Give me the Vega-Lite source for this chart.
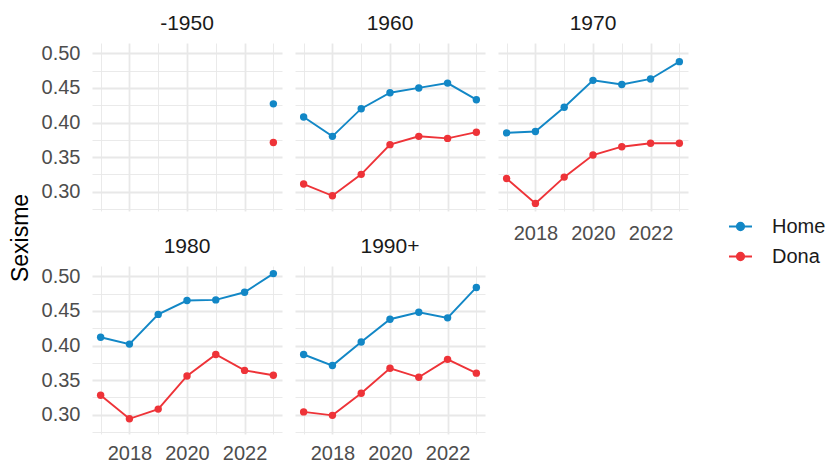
{
  "$schema": "https://vega.github.io/schema/vega-lite/v6.json",
  "background": "white",
  "padding": {"left": 10, "top": 13, "right": 5, "bottom": 2},
  "title": {"text": "Sexisme", "orient": "left", "anchor": "middle", "fontSize": 23, "fontWeight": "normal", "font": "Liberation Sans", "color": "black", "offset": 8},
  "data": {"values": [
    {"cohort": "-1950", "year": 2023, "sexe": "Home", "value": 0.427},
    {"cohort": "-1950", "year": 2023, "sexe": "Dona", "value": 0.371},
    {"cohort": "1960", "year": 2017, "sexe": "Home", "value": 0.408},
    {"cohort": "1960", "year": 2018, "sexe": "Home", "value": 0.380},
    {"cohort": "1960", "year": 2019, "sexe": "Home", "value": 0.420},
    {"cohort": "1960", "year": 2020, "sexe": "Home", "value": 0.443},
    {"cohort": "1960", "year": 2021, "sexe": "Home", "value": 0.450},
    {"cohort": "1960", "year": 2022, "sexe": "Home", "value": 0.457},
    {"cohort": "1960", "year": 2023, "sexe": "Home", "value": 0.433},
    {"cohort": "1960", "year": 2017, "sexe": "Dona", "value": 0.311},
    {"cohort": "1960", "year": 2018, "sexe": "Dona", "value": 0.294},
    {"cohort": "1960", "year": 2019, "sexe": "Dona", "value": 0.325},
    {"cohort": "1960", "year": 2020, "sexe": "Dona", "value": 0.368},
    {"cohort": "1960", "year": 2021, "sexe": "Dona", "value": 0.380},
    {"cohort": "1960", "year": 2022, "sexe": "Dona", "value": 0.377},
    {"cohort": "1960", "year": 2023, "sexe": "Dona", "value": 0.386},
    {"cohort": "1970", "year": 2017, "sexe": "Home", "value": 0.385},
    {"cohort": "1970", "year": 2018, "sexe": "Home", "value": 0.387},
    {"cohort": "1970", "year": 2019, "sexe": "Home", "value": 0.422},
    {"cohort": "1970", "year": 2020, "sexe": "Home", "value": 0.461},
    {"cohort": "1970", "year": 2021, "sexe": "Home", "value": 0.455},
    {"cohort": "1970", "year": 2022, "sexe": "Home", "value": 0.463},
    {"cohort": "1970", "year": 2023, "sexe": "Home", "value": 0.488},
    {"cohort": "1970", "year": 2017, "sexe": "Dona", "value": 0.319},
    {"cohort": "1970", "year": 2018, "sexe": "Dona", "value": 0.283},
    {"cohort": "1970", "year": 2019, "sexe": "Dona", "value": 0.321},
    {"cohort": "1970", "year": 2020, "sexe": "Dona", "value": 0.353},
    {"cohort": "1970", "year": 2021, "sexe": "Dona", "value": 0.365},
    {"cohort": "1970", "year": 2022, "sexe": "Dona", "value": 0.370},
    {"cohort": "1970", "year": 2023, "sexe": "Dona", "value": 0.370},
    {"cohort": "1980", "year": 2017, "sexe": "Home", "value": 0.412},
    {"cohort": "1980", "year": 2018, "sexe": "Home", "value": 0.402},
    {"cohort": "1980", "year": 2019, "sexe": "Home", "value": 0.445},
    {"cohort": "1980", "year": 2020, "sexe": "Home", "value": 0.465},
    {"cohort": "1980", "year": 2021, "sexe": "Home", "value": 0.466},
    {"cohort": "1980", "year": 2022, "sexe": "Home", "value": 0.477},
    {"cohort": "1980", "year": 2023, "sexe": "Home", "value": 0.504},
    {"cohort": "1980", "year": 2017, "sexe": "Dona", "value": 0.328},
    {"cohort": "1980", "year": 2018, "sexe": "Dona", "value": 0.294},
    {"cohort": "1980", "year": 2019, "sexe": "Dona", "value": 0.308},
    {"cohort": "1980", "year": 2020, "sexe": "Dona", "value": 0.356},
    {"cohort": "1980", "year": 2021, "sexe": "Dona", "value": 0.387},
    {"cohort": "1980", "year": 2022, "sexe": "Dona", "value": 0.364},
    {"cohort": "1980", "year": 2023, "sexe": "Dona", "value": 0.357},
    {"cohort": "1990+", "year": 2017, "sexe": "Home", "value": 0.387},
    {"cohort": "1990+", "year": 2018, "sexe": "Home", "value": 0.371},
    {"cohort": "1990+", "year": 2019, "sexe": "Home", "value": 0.405},
    {"cohort": "1990+", "year": 2020, "sexe": "Home", "value": 0.438},
    {"cohort": "1990+", "year": 2021, "sexe": "Home", "value": 0.448},
    {"cohort": "1990+", "year": 2022, "sexe": "Home", "value": 0.440},
    {"cohort": "1990+", "year": 2023, "sexe": "Home", "value": 0.484},
    {"cohort": "1990+", "year": 2017, "sexe": "Dona", "value": 0.304},
    {"cohort": "1990+", "year": 2018, "sexe": "Dona", "value": 0.299},
    {"cohort": "1990+", "year": 2019, "sexe": "Dona", "value": 0.331},
    {"cohort": "1990+", "year": 2020, "sexe": "Dona", "value": 0.367},
    {"cohort": "1990+", "year": 2021, "sexe": "Dona", "value": 0.354},
    {"cohort": "1990+", "year": 2022, "sexe": "Dona", "value": 0.380},
    {"cohort": "1990+", "year": 2023, "sexe": "Dona", "value": 0.360}
  ]},
  "spacing": -7,
  "vconcat": [
    {"spacing": 13, "hconcat": [
      {"title": "-1950", "width": 190, "height": 168,
        "transform": [{"filter": "datum.cohort == '-1950'"}],
        "encoding": {
          "x": {"field": "year", "type": "quantitative", "title": null, "scale": {"domain": [2016.7, 2023.3], "nice": false, "zero": false},
            "axis": {"values": [2017, 2018, 2019, 2020, 2021, 2022, 2023], "labels": false,
              "gridWidth": {"condition": {"test": "datum.value % 2 == 1", "value": 0.9}, "value": 1.8}}},
          "y": {"field": "value", "type": "quantitative", "title": null, "scale": {"domain": [0.272, 0.515], "nice": false, "zero": false},
            "axis": {"values": [0.275, 0.3, 0.325, 0.35, 0.375, 0.4, 0.425, 0.45, 0.475, 0.5],
              "labelExpr": "abs(datum.value * 20 - round(datum.value * 20)) < 0.01 ? format(datum.value, '.2f') : ''",
              "gridWidth": {"condition": {"test": "abs(datum.value * 20 - round(datum.value * 20)) > 0.01", "value": 0.9}, "value": 1.8}}},
          "color": {"field": "sexe", "type": "nominal", "title": null, "scale": {"domain": ["Home", "Dona"], "range": ["#1287C6", "#EE3338"]}}
        },
        "layer": [
          {"mark": {"type": "line", "strokeWidth": 1.9}},
          {"mark": {"type": "point", "filled": true, "size": 55, "opacity": 1}}
        ]},
      {"title": "1960", "width": 190, "height": 168,
        "transform": [{"filter": "datum.cohort == '1960'"}],
        "encoding": {
          "x": {"field": "year", "type": "quantitative", "title": null, "scale": {"domain": [2016.7, 2023.3], "nice": false, "zero": false},
            "axis": {"values": [2017, 2018, 2019, 2020, 2021, 2022, 2023], "labels": false,
              "gridWidth": {"condition": {"test": "datum.value % 2 == 1", "value": 0.9}, "value": 1.8}}},
          "y": {"field": "value", "type": "quantitative", "title": null, "scale": {"domain": [0.272, 0.515], "nice": false, "zero": false},
            "axis": {"values": [0.275, 0.3, 0.325, 0.35, 0.375, 0.4, 0.425, 0.45, 0.475, 0.5], "labels": false,
              "gridWidth": {"condition": {"test": "abs(datum.value * 20 - round(datum.value * 20)) > 0.01", "value": 0.9}, "value": 1.8}}},
          "color": {"field": "sexe", "type": "nominal", "title": null, "scale": {"domain": ["Home", "Dona"], "range": ["#1287C6", "#EE3338"]}}
        },
        "layer": [
          {"mark": {"type": "line", "strokeWidth": 1.9}},
          {"mark": {"type": "point", "filled": true, "size": 55, "opacity": 1}}
        ]},
      {"title": "1970", "width": 190, "height": 168,
        "transform": [{"filter": "datum.cohort == '1970'"}],
        "encoding": {
          "x": {"field": "year", "type": "quantitative", "title": null, "scale": {"domain": [2016.7, 2023.3], "nice": false, "zero": false},
            "axis": {"values": [2017, 2018, 2019, 2020, 2021, 2022, 2023],
              "labelExpr": "datum.value % 2 == 0 ? format(datum.value, 'd') : ''",
              "gridWidth": {"condition": {"test": "datum.value % 2 == 1", "value": 0.9}, "value": 1.8}}},
          "y": {"field": "value", "type": "quantitative", "title": null, "scale": {"domain": [0.272, 0.515], "nice": false, "zero": false},
            "axis": {"values": [0.275, 0.3, 0.325, 0.35, 0.375, 0.4, 0.425, 0.45, 0.475, 0.5], "labels": false,
              "gridWidth": {"condition": {"test": "abs(datum.value * 20 - round(datum.value * 20)) > 0.01", "value": 0.9}, "value": 1.8}}},
          "color": {"field": "sexe", "type": "nominal", "title": null, "scale": {"domain": ["Home", "Dona"], "range": ["#1287C6", "#EE3338"]}}
        },
        "layer": [
          {"mark": {"type": "line", "strokeWidth": 1.9}},
          {"mark": {"type": "point", "filled": true, "size": 55, "opacity": 1}}
        ]}
    ]},
    {"spacing": 13, "hconcat": [
      {"title": "1980", "width": 190, "height": 168,
        "transform": [{"filter": "datum.cohort == '1980'"}],
        "encoding": {
          "x": {"field": "year", "type": "quantitative", "title": null, "scale": {"domain": [2016.7, 2023.3], "nice": false, "zero": false},
            "axis": {"values": [2017, 2018, 2019, 2020, 2021, 2022, 2023], "labelPadding": 9,
              "labelExpr": "datum.value % 2 == 0 ? format(datum.value, 'd') : ''",
              "gridWidth": {"condition": {"test": "datum.value % 2 == 1", "value": 0.9}, "value": 1.8}}},
          "y": {"field": "value", "type": "quantitative", "title": null, "scale": {"domain": [0.272, 0.515], "nice": false, "zero": false},
            "axis": {"values": [0.275, 0.3, 0.325, 0.35, 0.375, 0.4, 0.425, 0.45, 0.475, 0.5],
              "labelExpr": "abs(datum.value * 20 - round(datum.value * 20)) < 0.01 ? format(datum.value, '.2f') : ''",
              "gridWidth": {"condition": {"test": "abs(datum.value * 20 - round(datum.value * 20)) > 0.01", "value": 0.9}, "value": 1.8}}},
          "color": {"field": "sexe", "type": "nominal", "title": null, "scale": {"domain": ["Home", "Dona"], "range": ["#1287C6", "#EE3338"]}}
        },
        "layer": [
          {"mark": {"type": "line", "strokeWidth": 1.9}},
          {"mark": {"type": "point", "filled": true, "size": 55, "opacity": 1}}
        ]},
      {"title": "1990+", "width": 190, "height": 168,
        "transform": [{"filter": "datum.cohort == '1990+'"}],
        "encoding": {
          "x": {"field": "year", "type": "quantitative", "title": null, "scale": {"domain": [2016.7, 2023.3], "nice": false, "zero": false},
            "axis": {"values": [2017, 2018, 2019, 2020, 2021, 2022, 2023], "labelPadding": 9,
              "labelExpr": "datum.value % 2 == 0 ? format(datum.value, 'd') : ''",
              "gridWidth": {"condition": {"test": "datum.value % 2 == 1", "value": 0.9}, "value": 1.8}}},
          "y": {"field": "value", "type": "quantitative", "title": null, "scale": {"domain": [0.272, 0.515], "nice": false, "zero": false},
            "axis": {"values": [0.275, 0.3, 0.325, 0.35, 0.375, 0.4, 0.425, 0.45, 0.475, 0.5], "labels": false,
              "gridWidth": {"condition": {"test": "abs(datum.value * 20 - round(datum.value * 20)) > 0.01", "value": 0.9}, "value": 1.8}}},
          "color": {"field": "sexe", "type": "nominal", "title": null, "scale": {"domain": ["Home", "Dona"], "range": ["#1287C6", "#EE3338"]},
            "legend": {"orient": "none", "legendX": 636, "legendY": 171}}
        },
        "layer": [
          {"mark": {"type": "line", "strokeWidth": 1.9}},
          {"mark": {"type": "point", "filled": true, "size": 55, "opacity": 1}}
        ]}
    ]}
  ],
  "resolve": {"scale": {"color": "shared"}, "legend": {"color": "shared"}},
  "config": {
    "font": "Liberation Sans",
    "view": {"stroke": null},
    "title": {"fontSize": 21, "fontWeight": "normal", "color": "#1a1a1a", "anchor": "middle", "offset": 9},
    "axis": {"domain": false, "ticks": false, "labelFontSize": 20, "labelColor": "#4d4d4d", "labelFont": "Liberation Sans", "gridColor": "#e8e8e8", "labelPadding": 12},
    "axisY": {"labelPadding": 12},
    "legend": {"labelFontSize": 20, "labelFont": "Liberation Sans", "labelColor": "#1a1a1a", "rowPadding": 7, "labelOffset": 19,
      "symbolType": "M-1,0L1,0M-0.32,0A0.32,0.32 0 1,1 0.32,0A0.32,0.32 0 1,1 -0.32,0Z", "symbolSize": 529, "symbolStrokeWidth": 1.9}
  }
}
